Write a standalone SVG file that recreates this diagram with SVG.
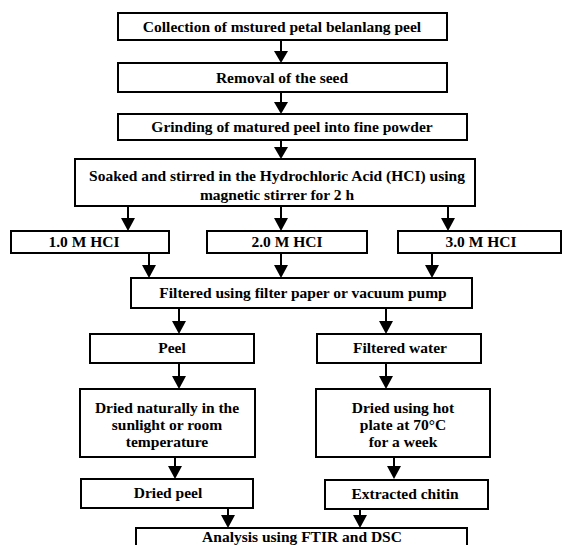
<svg xmlns="http://www.w3.org/2000/svg" width="563" height="545" viewBox="0 0 563 545">
<defs>
<style>
rect{fill:#fff;stroke:#000;stroke-width:2}
text{font-size:15.5px;font-weight:bold;fill:#000;text-anchor:middle}
.c line{stroke:#000;stroke-width:2}
.c path{fill:#000}
</style>
</defs>
<rect x="0" y="0" width="563" height="545" style="fill:#fff;stroke:none"/>
<g class="c" id="connectors">
<line x1="281" y1="40" x2="281" y2="52"/><path d="M274,51 L288,51 L281,63 Z"/>
<line x1="281" y1="92" x2="281" y2="103"/><path d="M274,102 L288,102 L281,114 Z"/>
<line x1="281" y1="140" x2="281" y2="148"/><path d="M274,147 L288,147 L281,159 Z"/>
<line x1="128" y1="206" x2="128" y2="219"/><path d="M121,218 L135,218 L128,231 Z"/>
<line x1="281" y1="206" x2="281" y2="219"/><path d="M274,218 L288,218 L281,231 Z"/>
<line x1="448" y1="206" x2="448" y2="219"/><path d="M441,218 L455,218 L448,231 Z"/>
<line x1="149" y1="253" x2="149" y2="266"/><path d="M142,265 L156,265 L149,278 Z"/>
<line x1="281" y1="253" x2="281" y2="266"/><path d="M274,265 L288,265 L281,278 Z"/>
<line x1="432" y1="253" x2="432" y2="266"/><path d="M425,265 L439,265 L432,278 Z"/>
<line x1="179" y1="308" x2="179" y2="322"/><path d="M172,321 L186,321 L179,334 Z"/>
<line x1="386" y1="308" x2="386" y2="322"/><path d="M379,321 L393,321 L386,334 Z"/>
<line x1="179" y1="363" x2="179" y2="377"/><path d="M172,376 L186,376 L179,389 Z"/>
<line x1="386" y1="363" x2="386" y2="377"/><path d="M379,376 L393,376 L386,389 Z"/>
<line x1="175" y1="457" x2="175" y2="467"/><path d="M168,466 L182,466 L175,479 Z"/>
<line x1="394" y1="457" x2="394" y2="467"/><path d="M387,466 L401,466 L394,479 Z"/>
<line x1="228" y1="508" x2="228" y2="516"/><path d="M221,515 L235,515 L228,528 Z"/>
<line x1="360" y1="509" x2="360" y2="516"/><path d="M353,515 L367,515 L360,528 Z"/>
</g>
<g id="nodes" font-family="'Liberation Serif', 'Times New Roman', serif">
<g id="n1"><rect x="118" y="13" width="329" height="27"/><text x="282" y="32">Collection of mstured petal belanlang peel</text></g>
<g id="n2"><rect x="118" y="63" width="329" height="29"/><text x="282" y="83">Removal of the seed</text></g>
<g id="n3"><rect x="118" y="114" width="349" height="26"/><text x="292" y="132">Grinding of matured peel into fine powder</text></g>
<g id="n4"><rect x="75" y="159" width="400" height="47"/><text x="277" y="181">Soaked and stirred in the Hydrochloric Acid (HCI) using</text><text x="277" y="200">magnetic stirrer for 2 h</text></g>
<g id="n5"><rect x="11" y="231" width="158" height="22"/><text x="84" y="247">1.0 M HCI</text></g>
<g id="n6"><rect x="207" y="231" width="160" height="22"/><text x="287" y="247">2.0 M HCI</text></g>
<g id="n7"><rect x="398" y="231" width="163" height="22"/><text x="481" y="247">3.0 M HCI</text></g>
<g id="n8"><rect x="131" y="278" width="341" height="30"/><text x="303" y="298">Filtered using filter paper or vacuum pump</text></g>
<g id="n9"><rect x="90" y="334" width="164" height="29"/><text x="172" y="353">Peel</text></g>
<g id="n10"><rect x="317" y="334" width="164" height="29"/><text x="400" y="353">Filtered water</text></g>
<g id="n11"><rect x="80" y="389" width="175" height="68"/><text x="167" y="413">Dried naturally in the</text><text x="167" y="430">sunlight or room</text><text x="167" y="447">temperature</text></g>
<g id="n12"><rect x="316" y="389" width="174" height="68"/><text x="403" y="413">Dried using hot</text><text x="403" y="430">plate at 70°C</text><text x="403" y="447">for a week</text></g>
<g id="n13"><rect x="81" y="479" width="172" height="29"/><text x="168" y="498">Dried peel</text></g>
<g id="n14"><rect x="325" y="480" width="163" height="29"/><text x="405" y="499">Extracted chitin</text></g>
<g id="n15"><rect x="136" y="528" width="331" height="30"/><text x="302" y="542">Analysis using FTIR and DSC</text></g>
</g>
</svg>
